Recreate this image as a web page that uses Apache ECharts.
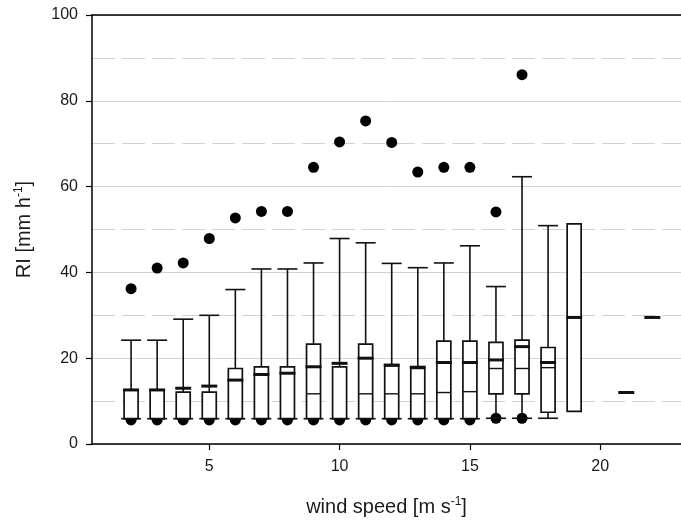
<!DOCTYPE html>
<html>
<head>
<meta charset="utf-8">
<script src="https://cdn.jsdelivr.net/npm/echarts@6/dist/echarts.min.js"></script>
<style>html,body{margin:0;padding:0;background:#fff}#c{width:681px;height:522px}</style>
</head>
<body>
<div id="c"></div>
<script>
// wind speed classes [m s-1]
const windSpeed = [2,3,4,5,6,7,8,9,10,11,12,13,14,15,16,17,18,19,21,22];
// 95th percentile (upper dots)
const p95 = [36.2,41.0,42.2,47.9,52.7,54.2,54.2,64.5,70.4,75.3,70.3,63.4,64.5,64.5,54.1,86.1,null,null,null,null];
// 90th percentile (upper whisker)
const p90 = [24.2,24.2,29.1,30.0,36.0,40.8,40.8,42.2,47.9,46.9,42.1,41.1,42.2,46.2,36.7,62.3,50.9,null,null,null];
// upper quartile
const q3 = [12.6,12.6,12.1,12.1,17.6,18.0,18.0,23.3,18.0,23.3,18.2,17.6,24.0,24.0,23.7,24.2,22.5,51.3,null,null];
// mean (thick line)
const meanVal = [12.6,12.6,13.0,13.5,14.9,16.2,16.5,18.0,18.8,20.0,18.4,17.9,19.0,19.0,19.6,22.7,19.0,29.5,12.0,29.5];
// median (thin line)
const median = [5.9,5.9,5.9,5.9,5.9,5.9,5.9,11.7,5.9,11.7,11.7,11.7,12.0,12.2,17.6,17.6,17.8,29.5,null,null];
// lower quartile
const q1 = [5.9,5.9,5.9,5.9,5.9,5.9,5.9,5.9,5.9,5.9,5.9,5.9,5.9,5.9,11.7,11.7,7.4,7.6,null,null];
// 10th percentile (lower whisker)
const p10 = [5.9,5.9,5.9,5.9,5.9,5.9,5.9,5.9,5.9,5.9,5.9,5.9,5.9,5.9,6.0,6.0,6.0,null,null,null];
// 5th percentile (lower dots)
const p5 = [5.6,5.6,5.6,5.6,5.6,5.6,5.6,5.6,5.6,5.6,5.6,5.6,5.6,5.6,6.0,6.0,null,null,null,null];

const xTicks = [5,10,15,20];

const chart = echarts.init(document.getElementById('c'), null, {renderer:'canvas'});

const BOX_W = 14, CAP_W = 20, MEAN_W = 16;
const INK = '#111';

function renderBox(params, api) {
  const i = params.dataIndex;
  const x = windSpeed[i];
  const c = v => api.coord([x, v]);
  const kids = [];
  const ln = (x1,y1,x2,y2,w) => kids.push({type:'line', shape:{x1,y1,x2,y2}, style:{stroke:INK, lineWidth:w}});
  if (p90[i] != null && q3[i] != null) {
    const a = c(q3[i]), b = c(p90[i]);
    ln(a[0], a[1], b[0], b[1], 1.6);
    ln(b[0]-CAP_W/2, b[1], b[0]+CAP_W/2, b[1], 1.6);
  }
  if (p10[i] != null && q1[i] != null) {
    const a = c(q1[i]), b = c(p10[i]);
    ln(a[0], a[1], b[0], b[1], 1.6);
    ln(b[0]-CAP_W/2, b[1], b[0]+CAP_W/2, b[1], 1.6);
  }
  if (q1[i] != null && q3[i] != null) {
    const lo = c(q1[i]), hi = c(q3[i]);
    kids.push({type:'rect', shape:{x: lo[0]-BOX_W/2, y: hi[1], width: BOX_W, height: lo[1]-hi[1]},
      style:{fill:'#fff', stroke:INK, lineWidth:1.7}});
  }
  if (median[i] != null) {
    const m = c(median[i]);
    ln(m[0]-BOX_W/2, m[1], m[0]+BOX_W/2, m[1], 1.4);
  }
  if (meanVal[i] != null) {
    const m = c(meanVal[i]);
    ln(m[0]-MEAN_W/2, m[1], m[0]+MEAN_W/2, m[1], 3);
  }
  return {type:'group', children: kids};
}

const topDots = windSpeed.map((x,i)=>[x,p95[i]]).filter(d=>d[1]!=null);
const lowDots = windSpeed.map((x,i)=>[x,p5[i]]).filter(d=>d[1]!=null);

const font = 'Liberation Sans, Arial, sans-serif';

chart.setOption({
  animation: false,
  backgroundColor: '#fff',
  grid: {left: 92, right: 0, top: 15, bottom: 76},
  xAxis: [{
    type: 'value', min: 0.5, max: 23.1,
    axisLine: {show: true, onZero: false, lineStyle: {color: '#000', width: 1.5}},
    axisTick: {show: true, length: 6, customValues: xTicks, lineStyle: {color: '#000', width: 1.2}},
    axisLabel: {customValues: xTicks, color: '#1a1a1a', fontSize: 16, fontFamily: font, margin: 15},
    splitLine: {show: false},
    name: 'wind speed [m s{sup|-1}]',
    nameLocation: 'middle', nameGap: 52,
    nameTextStyle: {color: '#1a1a1a', fontSize: 20, fontFamily: font,
      rich: {sup: {fontSize: 12, fontFamily: font, color: '#1a1a1a', padding: [0,0,10,0]}}}
  }, {
    type: 'value', min: 0.5, max: 23.1, position: 'top',
    axisLine: {show: true, onZero: false, lineStyle: {color: '#000', width: 1.5}},
    axisTick: {show: false}, axisLabel: {show: false}, splitLine: {show: false}
  }],
  yAxis: {
    type: 'value', min: 0, max: 100, interval: 20,
    axisLine: {show: true, lineStyle: {color: '#000', width: 1.5}},
    axisTick: {show: true, length: 6, lineStyle: {color: '#000', width: 1.2}},
    axisLabel: {color: '#1a1a1a', fontSize: 16, fontFamily: font, margin: 14},
    splitLine: {show: true, lineStyle: {color: '#d2d2d2', width: 1}},
    minorTick: {show: false, splitNumber: 2},
    minorSplitLine: {show: true, lineStyle: {color: '#d2d2d2', width: 1, type: [23, 7]}},
    name: 'RI [mm h{sup|-1}]',
    nameLocation: 'middle', nameGap: 57, nameRotate: 90,
    nameTextStyle: {color: '#1a1a1a', fontSize: 20, fontFamily: font,
      rich: {sup: {fontSize: 12, fontFamily: font, color: '#1a1a1a', padding: [0,0,10,0]}}}
  },
  series: [
    {type: 'scatter', data: topDots, symbol: 'circle', symbolSize: 11, itemStyle: {color: '#000', opacity: 1}, z: 1},
    {type: 'scatter', data: lowDots, symbol: 'circle', symbolSize: 11, itemStyle: {color: '#000', opacity: 1}, z: 1},
    {type: 'custom', renderItem: renderBox, data: windSpeed.map(x => [x]), z: 3, clip: false}
  ]
});
</script>
</body>
</html>
